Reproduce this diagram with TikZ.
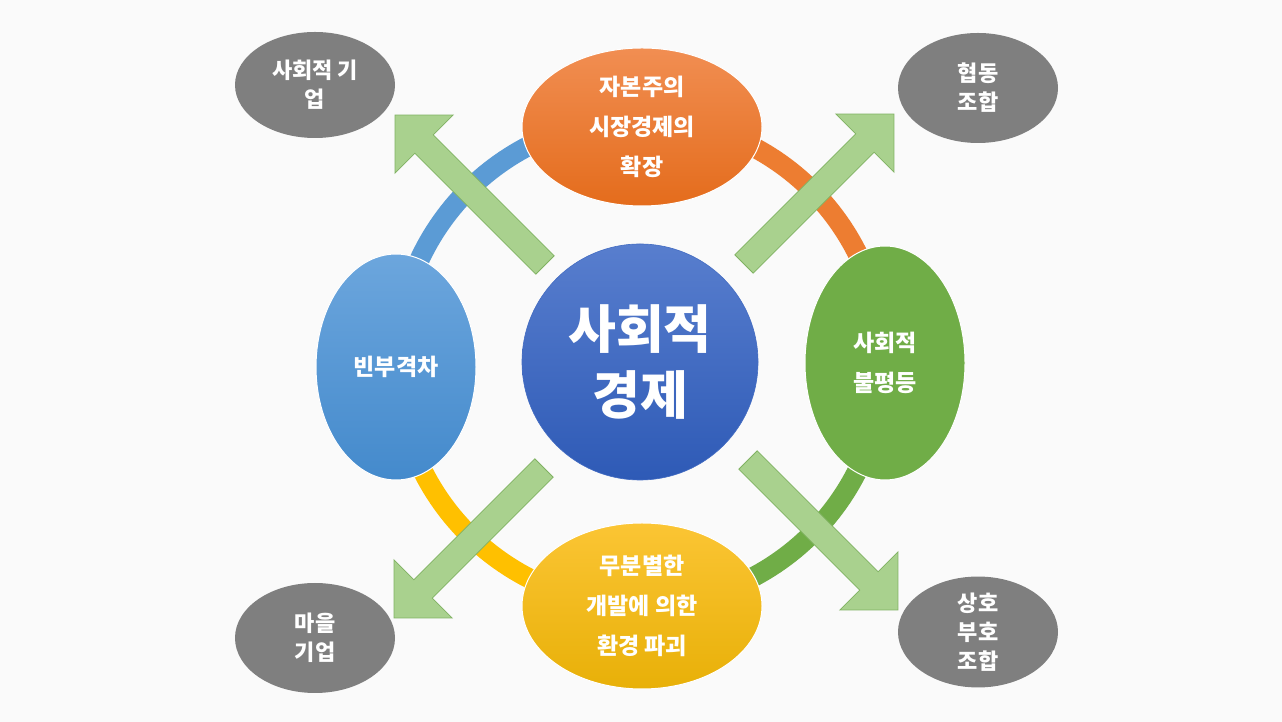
\documentclass[tikz,border=0pt]{standalone}
\usepackage{fontspec}
\setmainfont{Noto Sans CJK KR}
\usetikzlibrary{shapes.geometric}

\definecolor{paper}{RGB}{250,250,250}
\definecolor{ringblue}{RGB}{91,155,213}
\definecolor{ringorange}{RGB}{237,125,49}
\definecolor{ringgreen}{RGB}{112,173,71}
\definecolor{ringyellow}{RGB}{255,192,0}
\definecolor{hubtop}{RGB}{88,126,206}
\definecolor{hubbot}{RGB}{46,90,182}
\definecolor{modelgray}{RGB}{127,127,127}
\definecolor{arrowfill}{RGB}{169,209,142}
\definecolor{arrowline}{RGB}{128,178,98}

\tikzset{
  outarrow/.pic={
    \draw[fill=arrowfill, draw=arrowline, line width=0.8pt]
      (0,-13) -- (171,-13) -- (171,-41) -- (212,0) -- (171,41) -- (171,13) -- (0,13) -- cycle;
  }
}

\begin{document}
\begin{tikzpicture}[x=1pt, y=1pt,
  hub/.style={circle, minimum size=236pt, inner sep=0pt, text=white, align=center,
    font=\fontsize{52}{66}\selectfont\bfseries, top color=hubtop, bottom color=hubbot,
    draw=hubtop!50!hubbot, line width=0.6pt},
  issue/.style={ellipse, inner sep=0pt, text=white, align=center, draw=white,
    line width=1pt, font=\fontsize{23}{40}\selectfont\bfseries},
  model/.style={ellipse, minimum width=160pt, minimum height=110pt, inner sep=0pt,
    fill=modelgray, text=white, align=center, font=\fontsize{22}{29}\selectfont\bfseries},
  ringarc/.style={line width=20pt}]

\useasboundingbox (0,0) rectangle (1282,722);
\fill[paper] (0,0) rectangle (1282,722);

% ring behind the issues
\coordinate (ctr) at (640,360);
\draw[ringarc, ringorange] (ctr) ++(0:243) arc (0:90:243);
\draw[ringarc, ringblue] (ctr) ++(90:243) arc (90:180:243);
\draw[ringarc, ringyellow] (ctr) ++(180:243) arc (180:270:243);
\draw[ringarc, ringgreen] (ctr) ++(270:243) arc (270:360:243);

% block arrows out of the centre
\coordinate (tailnw) at (545,457);
\coordinate (tailne) at (744,458);
\coordinate (tailsw) at (544,254);
\coordinate (tailse) at (748,262);
\foreach \dir/\ang in {nw/135, ne/45, sw/225, se/315}
  \pic[rotate=\ang] at (tail\dir) {outarrow};

% centre
\node[hub] (hub) at (ctr) {사회적\\경제};

% issues on the ring
\node[issue, minimum width=240pt, minimum height=158pt,
  top color={rgb,255:red,241;green,142;blue,82}, bottom color={rgb,255:red,228;green,108;blue,28}]
  (market) at (642,595) {자본주의\\시장경제의\\확장};
\node[issue, minimum width=160pt, minimum height=226pt,
  top color={rgb,255:red,108;green,166;blue,221}, bottom color={rgb,255:red,68;green,138;blue,204}]
  (gap) at (396,355) {빈부격차};
\node[issue, minimum width=160pt, minimum height=234pt, fill=ringgreen]
  (unequal) at (885,359) {사회적\\불평등};
\node[issue, minimum width=240pt, minimum height=166pt,
  top color={rgb,255:red,251;green,197;blue,52}, bottom color={rgb,255:red,232;green,176;blue,8}]
  (ecology) at (642,116) {무분별한\\개발에 의한\\환경 파괴};

% alternative models
\node[model, minimum height=106pt] (socent) at (315,637) {사회적 기\\업};
\node[model] (coop) at (978,634) {협동\\조합};
\node[model] (village) at (315,84) {마을\\기업};
\node[model] (mutual) at (978,90) {상호\\부호\\조합};
\end{tikzpicture}
\end{document}
